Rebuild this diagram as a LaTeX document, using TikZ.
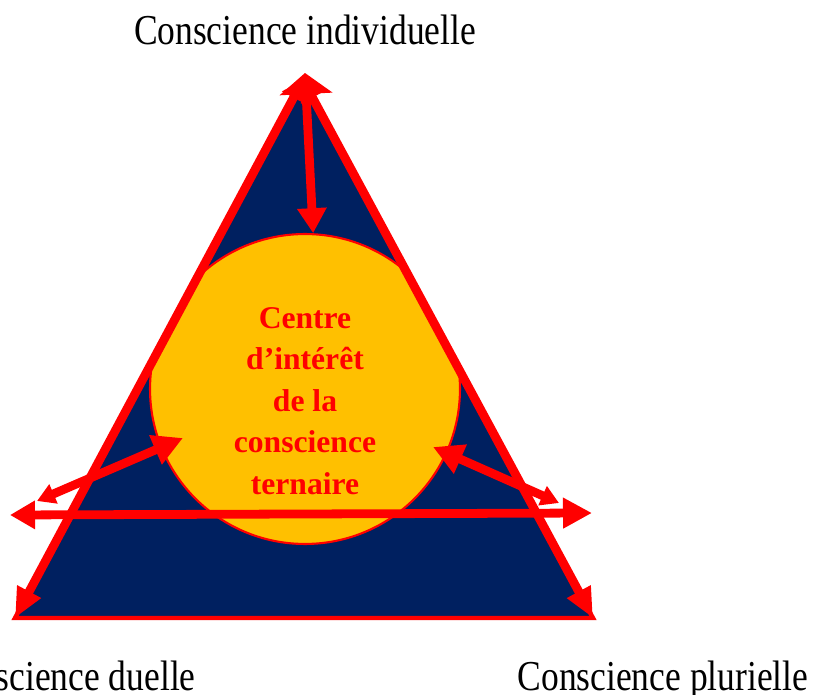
\documentclass[tikz,border=0pt]{standalone}
\usepackage{fontspec}
\setmainfont{Liberation Serif}
\usepackage{graphicx}
\usetikzlibrary{positioning}
\usetikzlibrary{calc}
\usetikzlibrary{arrows.meta}

\definecolor{navy}{RGB}{0,32,96}
\definecolor{gold}{RGB}{255,192,0}
\newcommand{\tall}[1]{\scalebox{1}[1.2]{#1}}

\begin{document}
\begin{tikzpicture}[x = 0.02cm, y = -0.02cm]
  \tikzstyle{tri}=[draw = red, fill = navy, line width = 2.5pt, line join = miter]
  \tikzstyle{focus}=[circle, draw = red, fill = gold, line width = 1.2pt, minimum size = 6.2cm, inner sep = 0pt]
  \tikzstyle{centre}=[text = red, font = \fontsize{18}{23.6}\selectfont\bfseries, align = center]
  \tikzstyle{pole}=[font = \fontsize{20.2}{24}\selectfont, anchor = base]
  \tikzstyle{link}=[draw = red, line width = 5pt]

  \useasboundingbox (0,0) rectangle (815,695);

  % corners of the triangle
  \coordinate (A) at (303,80);
  \coordinate (L) at (15,618);
  \coordinate (R) at (593,618);

  \path[tri] (A) -- (L) -- (R) -- cycle;

  \begin{scope}
    \clip (A) -- (L) -- (R) -- cycle;
    \node[focus] (c) at (305,389) { };
  \end{scope}
  \node[centre] (t) at (305,401) {Centre\\d’intérêt\\de la\\conscience\\ternaire};

  % ends of the arrows
  \coordinate (top) at (305,73);
  \coordinate (hl) at (10,515);
  \coordinate (hr) at (592,513);
  \coordinate (dl) at (183,438);
  \coordinate (dlo) at (37,501);
  \coordinate (dr) at (433,447);
  \coordinate (dro) at (559,503);

  \path (A) edge [link, {Triangle[width = 0.5cm, length = 0.4cm]}-{Triangle[width = 0.5cm, length = 0.6cm]}] (L)
        (A) edge [link, {Triangle[width = 0.5cm, length = 0.4cm]}-{Triangle[width = 0.5cm, length = 0.6cm]}] (R);

  \path (top) edge [link, {Triangle[width = 1.04cm, length = 0.42cm]}-{Triangle[width = 0.56cm, length = 0.5cm]}] (c.87);

  \path (hl) edge [link, {Triangle[width = 0.54cm, length = 0.5cm]}-{Triangle[width = 0.58cm, length = 0.58cm]}] (hr);

  \path (dlo) edge [link, {Triangle[width = 0.4cm, length = 0.36cm]}-{Triangle[width = 0.6cm, length = 0.6cm]}] (dl)
        (dro) edge [link, {Triangle[width = 0.4cm, length = 0.36cm]}-{Triangle[width = 0.6cm, length = 0.6cm]}] (dr);

  \node[pole] (ind) at (305,45) {\tall{Conscience individuelle}};
  \node[pole] (due) at (66,690) {\tall{Conscience duelle}};
  \node[pole] (plu) at (663,690) {\tall{Conscience plurielle}};

\end{tikzpicture}
\end{document}
